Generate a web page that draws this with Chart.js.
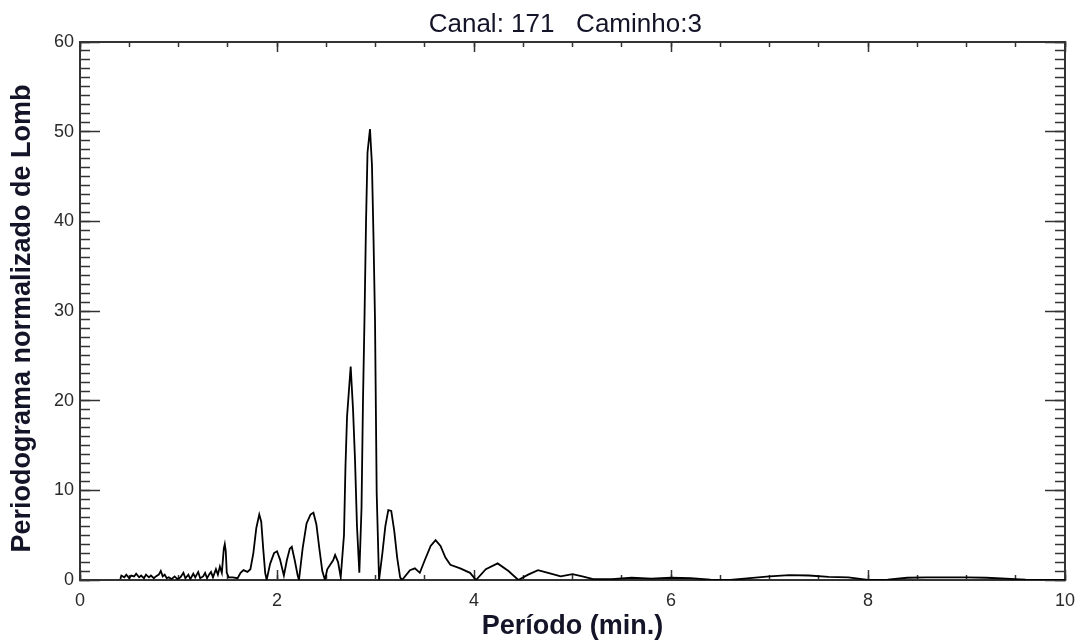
<!DOCTYPE html>
<html>
<head>
<meta charset="utf-8">
<script src="https://cdn.jsdelivr.net/npm/chart.js@4.4.1/dist/chart.umd.min.js"></script>
<style>
  html, body { margin: 0; padding: 0; background: #ffffff; }
  #wrap { position: relative; width: 1080px; height: 641px; }
</style>
</head>
<body>
<div id="wrap"><canvas id="c"></canvas></div>
<script>
// ---- Data ----
const chartTitle = 'Canal: 171   Caminho:3  ';
const xTitle = 'Período (min.)';
const yTitle = 'Periodograma normalizado de Lomb  ';

const periods = [0.41,0.42,0.45,0.47,0.50,0.52,0.55,0.57,0.60,0.62,0.65,0.67,0.70,0.72,0.75,0.77,0.80,0.82,0.84,0.86,
  0.88,0.90,0.93,0.96,0.99,1.02,1.05,1.07,1.10,1.12,1.15,1.17,1.20,1.22,1.25,1.27,1.29,1.31,1.33,1.35,
  1.38,1.40,1.42,1.44,1.46,1.47,1.48,1.49,1.51,1.55,1.60,1.63,1.66,1.70,1.73,1.76,1.79,1.82,1.84,1.86,
  1.88,1.895,1.93,1.97,2.00,2.03,2.07,2.10,2.13,2.15,2.18,2.21,2.223,2.26,2.30,2.34,2.37,2.40,2.43,2.46,
  2.487,2.51,2.54,2.57,2.59,2.62,2.647,2.68,2.695,2.711,2.748,2.772,2.792,2.812,2.836,2.858,2.873,2.888,2.904,2.919,
  2.944,2.964,2.980,2.995,3.012,3.036,3.07,3.10,3.13,3.16,3.19,3.22,3.25,3.27,3.35,3.40,3.45,3.50,3.56,3.61,
  3.66,3.71,3.76,3.86,3.96,4.02,4.12,4.24,4.35,4.45,4.55,4.65,4.78,4.88,5.00,5.10,5.21,5.40,5.60,5.80,
  6.00,6.20,6.40,6.60,6.80,7.00,7.20,7.40,7.60,7.80,8.00,8.20,8.40,8.60,8.80,9.00,9.20,9.40,9.60,9.80,10.0];

const power = [0.1,0.5,0.3,0.6,0.2,0.5,0.4,0.7,0.3,0.5,0.2,0.6,0.3,0.5,0.2,0.4,0.6,1.0,0.4,0.6,
  0.2,0.3,0.1,0.4,0.1,0.3,0.8,0.2,0.6,0.1,0.7,0.3,0.9,0.2,0.4,0.8,0.2,0.6,0.9,0.3,
  1.2,0.6,1.5,0.8,3.5,4.0,3.2,0.8,0.3,0.3,0.2,0.8,1.1,0.9,1.2,3.0,5.8,7.3,6.5,3.5,
  0.8,0.0,1.8,3.0,3.2,2.3,0.5,2.2,3.5,3.7,2.2,0.5,0.0,3.5,6.3,7.3,7.5,6.2,3.5,1.0,
  0.0,1.2,1.7,2.2,2.8,2.0,0.3,5.0,12.6,18.2,23.8,19.0,13.4,6.0,0.8,8.0,20.0,29.0,40.0,47.7,
  50.3,46.3,38.0,29.0,9.7,0.0,3.0,6.0,7.8,7.7,5.5,2.5,0.3,0.0,1.1,1.3,0.8,2.2,3.8,4.45,
  3.8,2.5,1.7,1.3,0.8,0.0,1.2,1.85,1.0,0.0,0.6,1.1,0.7,0.4,0.65,0.4,0.1,0.1,0.25,0.15,
  0.25,0.2,0.05,0.0,0.2,0.4,0.55,0.5,0.35,0.3,0.0,0.05,0.25,0.3,0.3,0.3,0.25,0.15,0.05,0.0,0.0];

const xTickValues = [0, 2, 4, 6, 8, 10];
const yTickValues = [0, 10, 20, 30, 40, 50, 60];
const xRange = [0, 10];
const yRange = [0, 60];
const xMinorStep = 0.5;
const yMinorStep = 1;

// ---- Styling ----
const axisColor = '#333333';
const textColor = '#141428';
const tickFont = { family: 'Liberation Sans, Arial, sans-serif', size: 18 };
const titleFontBold = { family: 'Liberation Sans, Arial, sans-serif', size: 27, weight: 'bold', lineHeight: 1.1 };

const points = periods.map((p, i) => ({ x: p, y: power[i] }));

function fixed(size, horizontal) {
  return function (scale) {
    if (horizontal) scale.height = size; else scale.width = size;
    scale.paddingLeft = 0; scale.paddingRight = 0;
    scale.paddingTop = 0; scale.paddingBottom = 0;
  };
}
function setTicks(values) {
  return function (scale) { scale.ticks = values.map(v => ({ value: v })); };
}

function majorScale(axis, position, range, values, tickLen, size, extra) {
  return Object.assign({
    type: 'linear', axis: axis, position: position, weight: 1,
    min: range[0], max: range[1],
    afterBuildTicks: setTicks(values),
    afterFit: fixed(size, axis === 'x'),
    grid: { drawOnChartArea: false, drawTicks: true, tickLength: tickLen, color: axisColor, tickWidth: 1.5 },
    border: { display: true, color: axisColor, width: 2 },
    ticks: { display: false }
  }, extra || {});
}
function minorScale(axis, position, range, step, tickLen) {
  return {
    type: 'linear', axis: axis, position: position, weight: 0,
    min: range[0], max: range[1],
    afterFit: fixed(0, axis === 'x'),
    grid: { drawOnChartArea: false, drawTicks: true, tickLength: tickLen, color: axisColor, tickWidth: 1.5 },
    border: { display: false },
    ticks: { display: false, stepSize: step, autoSkip: false, maxTicksLimit: 200 }
  };
}

new Chart(document.getElementById('c'), {
  type: 'line',
  data: {
    datasets: [{
      data: points,
      xAxisID: 'x',
      yAxisID: 'y',
      borderColor: '#000000',
      borderWidth: 1.8,
      pointRadius: 0,
      tension: 0,
      fill: false
    }]
  },
  options: {
    responsive: true,
    maintainAspectRatio: false,
    animation: false,
    layout: { padding: 0 },
    plugins: { legend: { display: false }, tooltip: { enabled: false }, title: { display: false } },
    scales: {
      x: majorScale('x', 'bottom', xRange, xTickValues, -10, 61, {
        ticks: { display: true, autoSkip: false, padding: 20, color: '#2a2a2a', font: tickFont, maxRotation: 0 },
        title: { display: true, text: xTitle, color: textColor, font: titleFontBold, padding: { top: 0, bottom: 0 } }
      }),
      xMinor: minorScale('x', 'bottom', xRange, xMinorStep, -5),
      xTop: majorScale('x', 'top', xRange, xTickValues, -10, 42, {
        title: { display: true, text: chartTitle, color: textColor,
                 font: { family: 'Liberation Sans, Arial, sans-serif', size: 26, lineHeight: 1.1 },
                 padding: { top: 11, bottom: 0 } }
      }),
      xTopMinor: minorScale('x', 'top', xRange, xMinorStep, -5),
      y: majorScale('y', 'left', yRange, yTickValues, -20, 80, {
        ticks: { display: true, autoSkip: false, padding: 26, color: '#2a2a2a', font: tickFont },
        title: { display: true, text: yTitle, color: textColor, font: titleFontBold, padding: { top: 8, bottom: 0 } }
      }),
      yMinor: minorScale('y', 'left', yRange, yMinorStep, -10),
      yRight: majorScale('y', 'right', yRange, yTickValues, -20, 15),
      yRightMinor: minorScale('y', 'right', yRange, yMinorStep, -10)
    }
  }
});
</script>
</body>
</html>
